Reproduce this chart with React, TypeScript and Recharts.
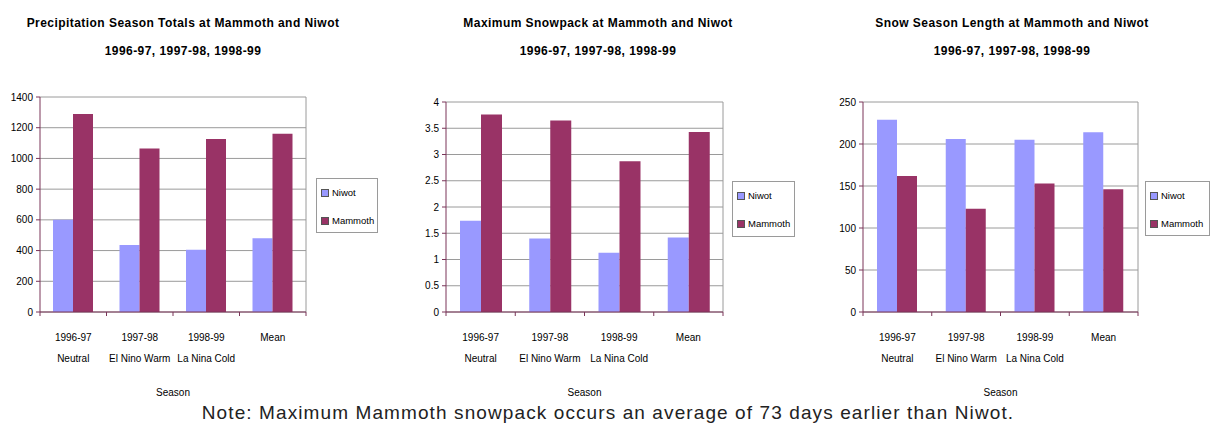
import React from 'react';
import { BarChart, Bar, XAxis, YAxis, CartesianGrid } from 'recharts';

const seasonYears = ['1996-97', '1997-98', '1998-99', 'Mean'];
const seasonTypes = ['Neutral', 'El Nino Warm', 'La Nina Cold', ''];

const precipNiwot = [600, 436, 406, 481];
const precipMammoth = [1290, 1065, 1127, 1161];
const precipTicks = [0, 200, 400, 600, 800, 1000, 1200, 1400];

const snowpackNiwot = [1.74, 1.4, 1.13, 1.42];
const snowpackMammoth = [3.76, 3.65, 2.87, 3.43];
const snowpackTicks = [0, 0.5, 1, 1.5, 2, 2.5, 3, 3.5, 4];

const lengthNiwot = [229, 206, 205, 214];
const lengthMammoth = [162, 123, 153, 146];
const lengthTicks = [0, 50, 100, 150, 200, 250];

const NIWOT = '#9999ff';
const MAMMOTH = '#993366';
const AXIS = '#7a3458';
const GRID = '#9a9a9a';
const FONT = '"Liberation Sans", Arial, sans-serif';

const buildRows = (niwot: number[], mammoth: number[]) =>
  seasonYears.map((year, i) => ({ year, type: seasonTypes[i], Niwot: niwot[i], Mammoth: mammoth[i] }));

interface PanelProps {
  left: number;
  width: number;
  titleCenter: number;
  title: string;
  niwot: number[];
  mammoth: number[];
  ticks: number[];
  yWidth: number;
  plotTop: number;
  rightMargin: number;
  barSize: number;
  legend: { x: number; y: number; w: number; h: number };
}

const Panel: React.FC<PanelProps> = (p) => {
  const data = buildRows(p.niwot, p.mammoth);
  const chartH = 400;
  const axisH = 88;
  const band = (p.width - p.yWidth - p.rightMargin) / data.length;

  const SeasonTick = (props: any) => {
    const { x, y, index, payload } = props;
    const row = data[index] || { year: payload.value, type: '' };
    const isLast = index === data.length - 1;
    return (
      <g>
        <line x1={x - band / 2} x2={x - band / 2} y1={y} y2={y + 4} stroke={AXIS} />
        {isLast && <line x1={x + band / 2} x2={x + band / 2} y1={y} y2={y + 4} stroke={AXIS} />}
        <text x={x} y={y + 29} textAnchor="middle" fontSize={10} fill="#000" fontFamily={FONT}>
          {row.year}
        </text>
        {row.type && (
          <text x={x} y={y + 50} textAnchor="middle" fontSize={10} fill="#000" fontFamily={FONT}>
            {row.type}
          </text>
        )}
      </g>
    );
  };

  return (
    <div style={{ position: 'absolute', left: p.left, top: 0, width: p.width, height: chartH }}>
      <div
        style={{
          position: 'absolute',
          left: p.titleCenter - 200,
          width: 400,
          top: 9,
          textAlign: 'center',
          fontFamily: FONT,
          fontWeight: 'bold',
          fontSize: 12,
          letterSpacing: 0.45,
          lineHeight: '28px',
          color: '#000',
        }}
      >
        <div>{p.title}</div>
        <div>1996-97, 1997-98, 1998-99</div>
      </div>
      <div style={{ position: 'absolute', left: 0, top: 0 }}>
        <BarChart
          width={p.width}
          height={chartH}
          data={data}
          margin={{ top: p.plotTop, right: p.rightMargin, bottom: 0, left: 0 }}
          barGap={0}
          barSize={p.barSize}
        >
          <CartesianGrid
            stroke={GRID}
            strokeWidth={1}
            vertical={true}
            verticalCoordinatesGenerator={({ offset }: any) => [offset.left + offset.width]}
          />
          <XAxis
            dataKey="year"
            height={axisH}
            axisLine={{ stroke: AXIS }}
            tickLine={false}
            tickSize={0}
            tickMargin={0}
            interval={0}
            tick={<SeasonTick />}
            label={{ value: 'Season', position: 'insideBottom', offset: 4, fontSize: 10, fill: '#000', fontFamily: FONT }}
          />
          <YAxis
            width={p.yWidth}
            domain={[p.ticks[0], p.ticks[p.ticks.length - 1]]}
            ticks={p.ticks}
            interval={0}
            axisLine={{ stroke: AXIS }}
            tickLine={{ stroke: AXIS }}
            tickSize={4}
            tickMargin={3}
            tick={{ fontSize: 10, fill: '#000', fontFamily: FONT }}
          />
          <Bar dataKey="Niwot" fill={NIWOT} isAnimationActive={false} />
          <Bar dataKey="Mammoth" fill={MAMMOTH} isAnimationActive={false} />
        </BarChart>
      </div>
      <div
        style={{
          position: 'absolute',
          left: p.legend.x,
          top: p.legend.y,
          width: p.legend.w,
          height: p.legend.h,
          border: '1px solid #9a9a9a',
          boxSizing: 'border-box',
          overflow: 'hidden',
          fontFamily: FONT,
          fontSize: 9.5,
          color: '#000',
          whiteSpace: 'nowrap',
        }}
      >
        {[
          { name: 'Niwot', color: NIWOT, top: 9 },
          { name: 'Mammoth', color: MAMMOTH, top: 37 },
        ].map((e) => (
          <div key={e.name} style={{ position: 'absolute', left: 4, top: e.top, lineHeight: '10px' }}>
            <span
              style={{
                display: 'inline-block',
                width: 6,
                height: 6,
                background: e.color,
                border: '1px solid #555',
                marginRight: 3,
                verticalAlign: 'middle',
              }}
            />
            <span style={{ verticalAlign: 'middle' }}>{e.name}</span>
          </div>
        ))}
      </div>
    </div>
  );
};

export default function App() {
  return (
    <div style={{ position: 'absolute', left: 0, top: 0, width: 1213, height: 430, background: '#fff', overflow: 'hidden' }}>
      <Panel
        left={0}
        width={400}
        titleCenter={183}
        title="Precipitation Season Totals at Mammoth and Niwot"
        niwot={precipNiwot}
        mammoth={precipMammoth}
        ticks={precipTicks}
        yWidth={40}
        plotTop={97}
        rightMargin={94}
        barSize={20}
        legend={{ x: 316, y: 178, w: 62, h: 55 }}
      />
      <Panel
        left={400}
        width={410}
        titleCenter={198}
        title="Maximum Snowpack at Mammoth and Niwot"
        niwot={snowpackNiwot}
        mammoth={snowpackMammoth}
        ticks={snowpackTicks}
        yWidth={46}
        plotTop={102}
        rightMargin={87}
        barSize={21}
        legend={{ x: 332, y: 181, w: 63, h: 56 }}
      />
      <Panel
        left={810}
        width={403}
        titleCenter={202}
        title="Snow Season Length at Mammoth and Niwot"
        niwot={lengthNiwot}
        mammoth={lengthMammoth}
        ticks={lengthTicks}
        yWidth={53}
        plotTop={102}
        rightMargin={75}
        barSize={20}
        legend={{ x: 335, y: 181, w: 65, h: 55 }}
      />
      <div
        style={{
          position: 'absolute',
          left: 0,
          width: 1216,
          top: 401,
          textAlign: 'center',
          fontFamily: FONT,
          fontSize: 19,
          letterSpacing: 1.1,
          lineHeight: '24px',
          color: '#222',
        }}
      >
        Note: Maximum Mammoth snowpack occurs an average of 73 days earlier than Niwot.
      </div>
    </div>
  );
}
